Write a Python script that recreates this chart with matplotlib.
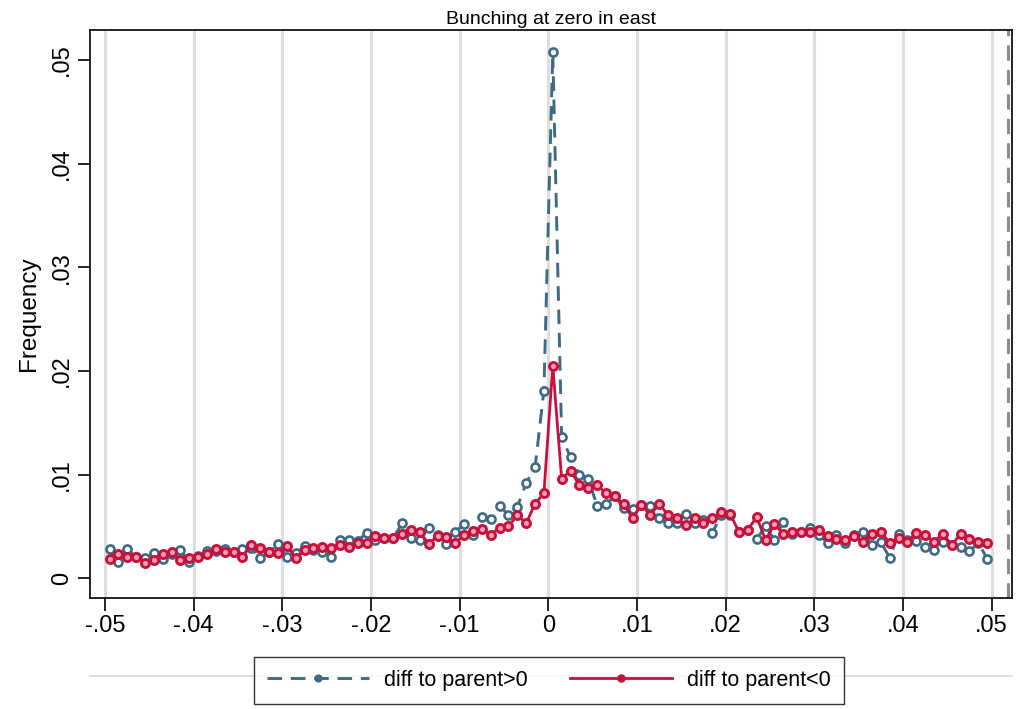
import numpy as np
import matplotlib
matplotlib.use('Agg')
import matplotlib.pyplot as plt
from matplotlib.lines import Line2D

plt.rcParams['font.family'] = ['Liberation Sans', 'DejaVu Sans']

# bin centres (bin width .001) from -.0495 to .0495
bins = np.round(np.arange(-0.0495, 0.0496, 0.001), 4)

# diff to parent > 0
freq_pos = [0.0028, 0.0016, 0.0028, 0.0021, 0.0020, 0.0024, 0.0019, 0.0023, 0.0027, 0.0016,
            0.0022, 0.0026, 0.0026, 0.0028, 0.0025, 0.0028, 0.0029, 0.0020, 0.0025, 0.0033,
            0.0021, 0.0024, 0.0031, 0.0027, 0.0025, 0.0021, 0.0037, 0.0037, 0.0036, 0.0044,
            0.0037, 0.0039, 0.0039, 0.0053, 0.0039, 0.0037, 0.0049, 0.0042, 0.0033, 0.0045,
            0.0052, 0.0042, 0.0059, 0.0057, 0.0070, 0.0061, 0.0069, 0.0092, 0.0107, 0.0181,
            0.0508, 0.0136, 0.0117, 0.0100, 0.0096, 0.0070, 0.0072, 0.0079, 0.0068, 0.0067,
            0.0071, 0.0070, 0.0058, 0.0053, 0.0053, 0.0062, 0.0053, 0.0056, 0.0044, 0.0061,
            0.0061, 0.0045, 0.0047, 0.0038, 0.0050, 0.0037, 0.0054, 0.0043, 0.0045, 0.0049,
            0.0042, 0.0034, 0.0042, 0.0034, 0.0042, 0.0045, 0.0032, 0.0035, 0.0020, 0.0043,
            0.0037, 0.0036, 0.0030, 0.0027, 0.0035, 0.0032, 0.0030, 0.0026, 0.0034, 0.0019]

# diff to parent < 0
freq_neg = [0.0019, 0.0023, 0.0021, 0.0021, 0.0015, 0.0018, 0.0023, 0.0025, 0.0018, 0.0020,
            0.0021, 0.0023, 0.0028, 0.0025, 0.0025, 0.0021, 0.0032, 0.0029, 0.0025, 0.0024,
            0.0031, 0.0020, 0.0027, 0.0029, 0.0030, 0.0029, 0.0032, 0.0030, 0.0034, 0.0034,
            0.0041, 0.0039, 0.0039, 0.0043, 0.0047, 0.0045, 0.0033, 0.0041, 0.0040, 0.0034,
            0.0042, 0.0046, 0.0048, 0.0042, 0.0049, 0.0050, 0.0061, 0.0053, 0.0072, 0.0082,
            0.0205, 0.0096, 0.0104, 0.0090, 0.0087, 0.0090, 0.0082, 0.0079, 0.0072, 0.0058,
            0.0071, 0.0061, 0.0072, 0.0061, 0.0058, 0.0051, 0.0058, 0.0053, 0.0058, 0.0064,
            0.0062, 0.0045, 0.0047, 0.0059, 0.0037, 0.0052, 0.0043, 0.0045, 0.0045, 0.0045,
            0.0047, 0.0041, 0.0038, 0.0037, 0.0041, 0.0035, 0.0043, 0.0045, 0.0034, 0.0039,
            0.0035, 0.0044, 0.0042, 0.0035, 0.0043, 0.0032, 0.0043, 0.0038, 0.0035, 0.0034]

xticks = [-0.05, -0.04, -0.03, -0.02, -0.01, 0, 0.01, 0.02, 0.03, 0.04, 0.05]
xticklabels = ['-.05', '-.04', '-.03', '-.02', '-.01', '0', '.01', '.02', '.03', '.04', '.05']
yticks = [0, 0.01, 0.02, 0.03, 0.04, 0.05]
yticklabels = ['0', '.01', '.02', '.03', '.04', '.05']

blue = '#3d6a87'
red = '#c8103c'

fig = plt.figure(figsize=(10.18, 7.09), dpi=100)
ax = fig.add_axes([90/1018, 1-598/709, (1012-90)/1018, (598-30)/709])

for t in xticks:
    ax.axvline(t, color='#dedede', lw=2.2, zorder=0)
ax.axvline(0.0518, color='#8c8c8c', lw=2.2, ls=(0, (5, 3)), zorder=1)

ax.plot(bins, freq_pos, color=blue, lw=2.1, dashes=(5, 3), marker='o', ms=5.8,
        mfc='white', mec=blue, mew=1.9, label='diff to parent>0', zorder=3)
ax.plot(bins, freq_neg, color=red, lw=2.0, marker='o', ms=5.8,
        mfc='#ee9fb1', mec=red, mew=2.1, label='diff to parent<0', zorder=4)

ax.set_xlim(-0.0517, 0.0523)
ax.set_ylim(-0.0019, 0.0529)
ax.set_xticks(xticks)
ax.set_xticklabels(xticklabels, fontsize=17)
ax.set_yticks(yticks)
ax.set_yticklabels(yticklabels, fontsize=17, rotation=90, va='center')
ax.tick_params(axis='x', length=9, width=1.2, pad=3)
ax.tick_params(axis='y', length=9, width=1.2, pad=3)
ax.set_ylabel('Frequency', fontsize=17.5, labelpad=8)
ax.set_title('Bunching at zero in east', fontsize=14, pad=4)
for s in ax.spines.values():
    s.set_linewidth(1.2)

# thin grey rule behind the legend
fig.add_artist(Line2D([90/1018, 1012/1018], [1-676/709, 1-676/709], color='#dcdcdc', lw=1.2))

leg = fig.legend(handles=ax.get_lines()[-2:], loc='center', bbox_to_anchor=(549/1018, 1-680.5/709),
                 ncol=2, fontsize=15.5, frameon=True, fancybox=False, edgecolor='black',
                 handlelength=4.75, handletextpad=0.7, columnspacing=1.95, numpoints=1,
                 borderpad=0.6)
leg.get_frame().set_linewidth(1.0)
for h in leg.legend_handles:
    h.set_markersize(4)
    h.set_markerfacecolor(h.get_color())

fig.savefig('out.png', dpi=100)
